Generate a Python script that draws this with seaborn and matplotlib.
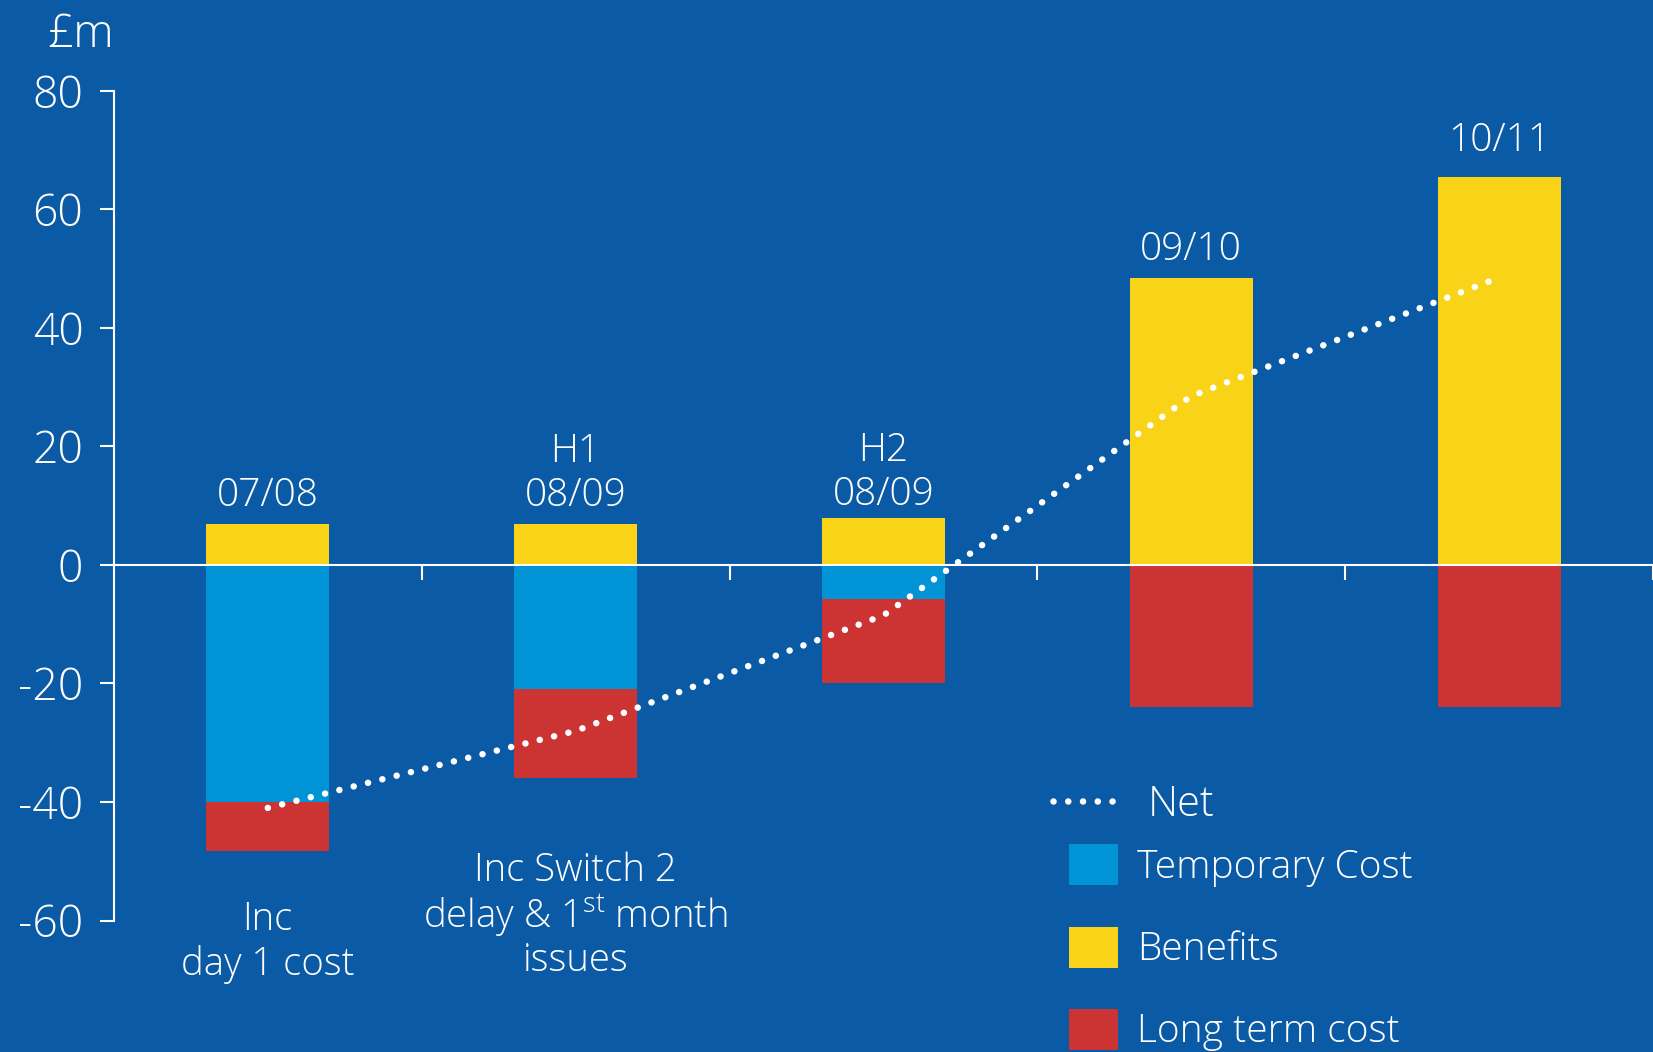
import numpy as np
import pandas as pd
import matplotlib
matplotlib.use("Agg")
import matplotlib.pyplot as plt
from matplotlib.lines import Line2D
from matplotlib.patches import Patch
import seaborn as sns

# ---- data (£m) ----
periods = ["07/08", "H1\n08/09", "H2\n08/09", "09/10", "10/11"]
benefits = [7, 7, 8, 48.5, 65.5]
temporary_cost = [-40, -21, -5.7, 0, 0]
long_term_cost = [-8.2, -15, -14.3, -24, -24]
net = [-41, -28, -8.5, 28.5, 48.5]
y_ticks = [-60, -40, -20, 0, 20, 40, 60, 80]
notes = ["Inc\nday 1 cost",
         "Inc Switch 2\ndelay & 1$^{\\mathrm{st}}$ month\nissues"]
legend_labels = ["Temporary Cost", "Benefits", "Long term cost"]

# ---- colours ----
BG = "#0B5AA5"
YELLOW = "#F9D317"
CYAN = "#0093D5"
RED = "#CC3333"
WHITE = "white"

sns.set_theme(style="ticks")
plt.rcParams["font.family"] = ["Open Sans", "DejaVu Sans"]
plt.rcParams["font.weight"] = "light"
plt.rcParams["mathtext.fontset"] = "custom"
plt.rcParams["mathtext.rm"] = "Open Sans:light"
plt.rcParams["mathtext.it"] = "Open Sans:italic"
plt.rcParams["mathtext.bf"] = "Open Sans:bold"

fig = plt.figure(figsize=(16.53, 10.52), dpi=100, facecolor=BG)
ax = fig.add_axes([0.0689, 0.125, 0.9311, 0.7885])
ax.set_facecolor(BG)

df = pd.DataFrame({
    "period": periods,
    "benefits": benefits,
    "temporary": temporary_cost,
    "long_term": long_term_cost,
})

bar_kw = dict(width=0.4, saturation=1, linewidth=0, errorbar=None,
              order=periods, ax=ax)
sns.barplot(data=df, x="period", y="benefits", color=YELLOW, **bar_kw)
sns.barplot(data=df, x="period", y="temporary", color=CYAN, **bar_kw)
sns.barplot(data=df, x="period", y="long_term", bottom=temporary_cost,
            color=RED, **bar_kw)

# net position as a dotted line through the bar centres
positions = np.arange(len(periods))
dot_style = dict(color=WHITE, linewidth=4.7, linestyle=(0, (0.01, 2.25)),
                 dash_capstyle="round")
sns.lineplot(x=positions, y=net, ax=ax, errorbar=None, **dot_style)

# ---- axes styling ----
ax.set_xlim(-0.5, len(periods) - 0.5)
ax.set_ylim(-60, 80)
ax.set_xticks(positions + 0.5)
ax.set_xticklabels([])
ax.set_yticks(y_ticks)
ax.set_yticklabels([str(v) for v in y_ticks])
ax.set_xlabel("")
ax.set_ylabel("")
for side in ["top", "right"]:
    ax.spines[side].set_visible(False)
ax.spines["bottom"].set_position(("data", 0))
ax.spines["left"].set_bounds(-60, 80)
for side in ["bottom", "left"]:
    ax.spines[side].set_color(WHITE)
    ax.spines[side].set_linewidth(1.5)
ax.tick_params(axis="y", colors=WHITE, labelcolor=WHITE, labelsize=32,
               length=10, width=1.5, pad=12)
ax.tick_params(axis="x", colors=WHITE, length=11, width=1.5, direction="out")

# period labels above the bars
label_lift = [6, 6, 2.5, 6, 12]
for i, (label, top) in enumerate(zip(periods, benefits)):
    ax.annotate(label, xy=(i, top), xytext=(0, label_lift[i]),
                textcoords="offset points", ha="center", va="bottom",
                color=WHITE, fontsize=28)

# notes under the first two bars (anchored on their last line)
ax.text(0, -69.2, notes[0], ha="center", va="baseline", color=WHITE,
        fontsize=27.5, multialignment="center")
ax.text(1, -68.5, notes[1], ha="center", va="baseline", color=WHITE,
        fontsize=27.5, multialignment="center", linespacing=1.08)

# unit label
fig.text(0.0284, 0.9553, "£m", color=WHITE, fontsize=33, va="baseline")

# ---- legends ----
net_leg = ax.legend(handles=[Line2D([], [], **dot_style)], labels=["Net"],
                    loc="upper left", bbox_to_anchor=(0.637, 0.2554),
                    bbox_transform=fig.transFigure, frameon=False,
                    fontsize=30, handlelength=1.58, handletextpad=0.7,
                    borderpad=0, borderaxespad=0, labelcolor=WHITE)
ax.add_artist(net_leg)

cost_handles = [Patch(facecolor=c, edgecolor="none") for c in (CYAN, YELLOW, RED)]
ax.legend(handles=cost_handles, labels=legend_labels, loc="upper left",
          bbox_to_anchor=(0.6467, 0.1975), bbox_transform=fig.transFigure,
          frameon=False, fontsize=28, handlelength=1.26, handleheight=1.25,
          handletextpad=0.48, labelspacing=1.02, borderpad=0,
          borderaxespad=0, labelcolor=WHITE)

fig.savefig("out.png", dpi=100, facecolor=BG)
